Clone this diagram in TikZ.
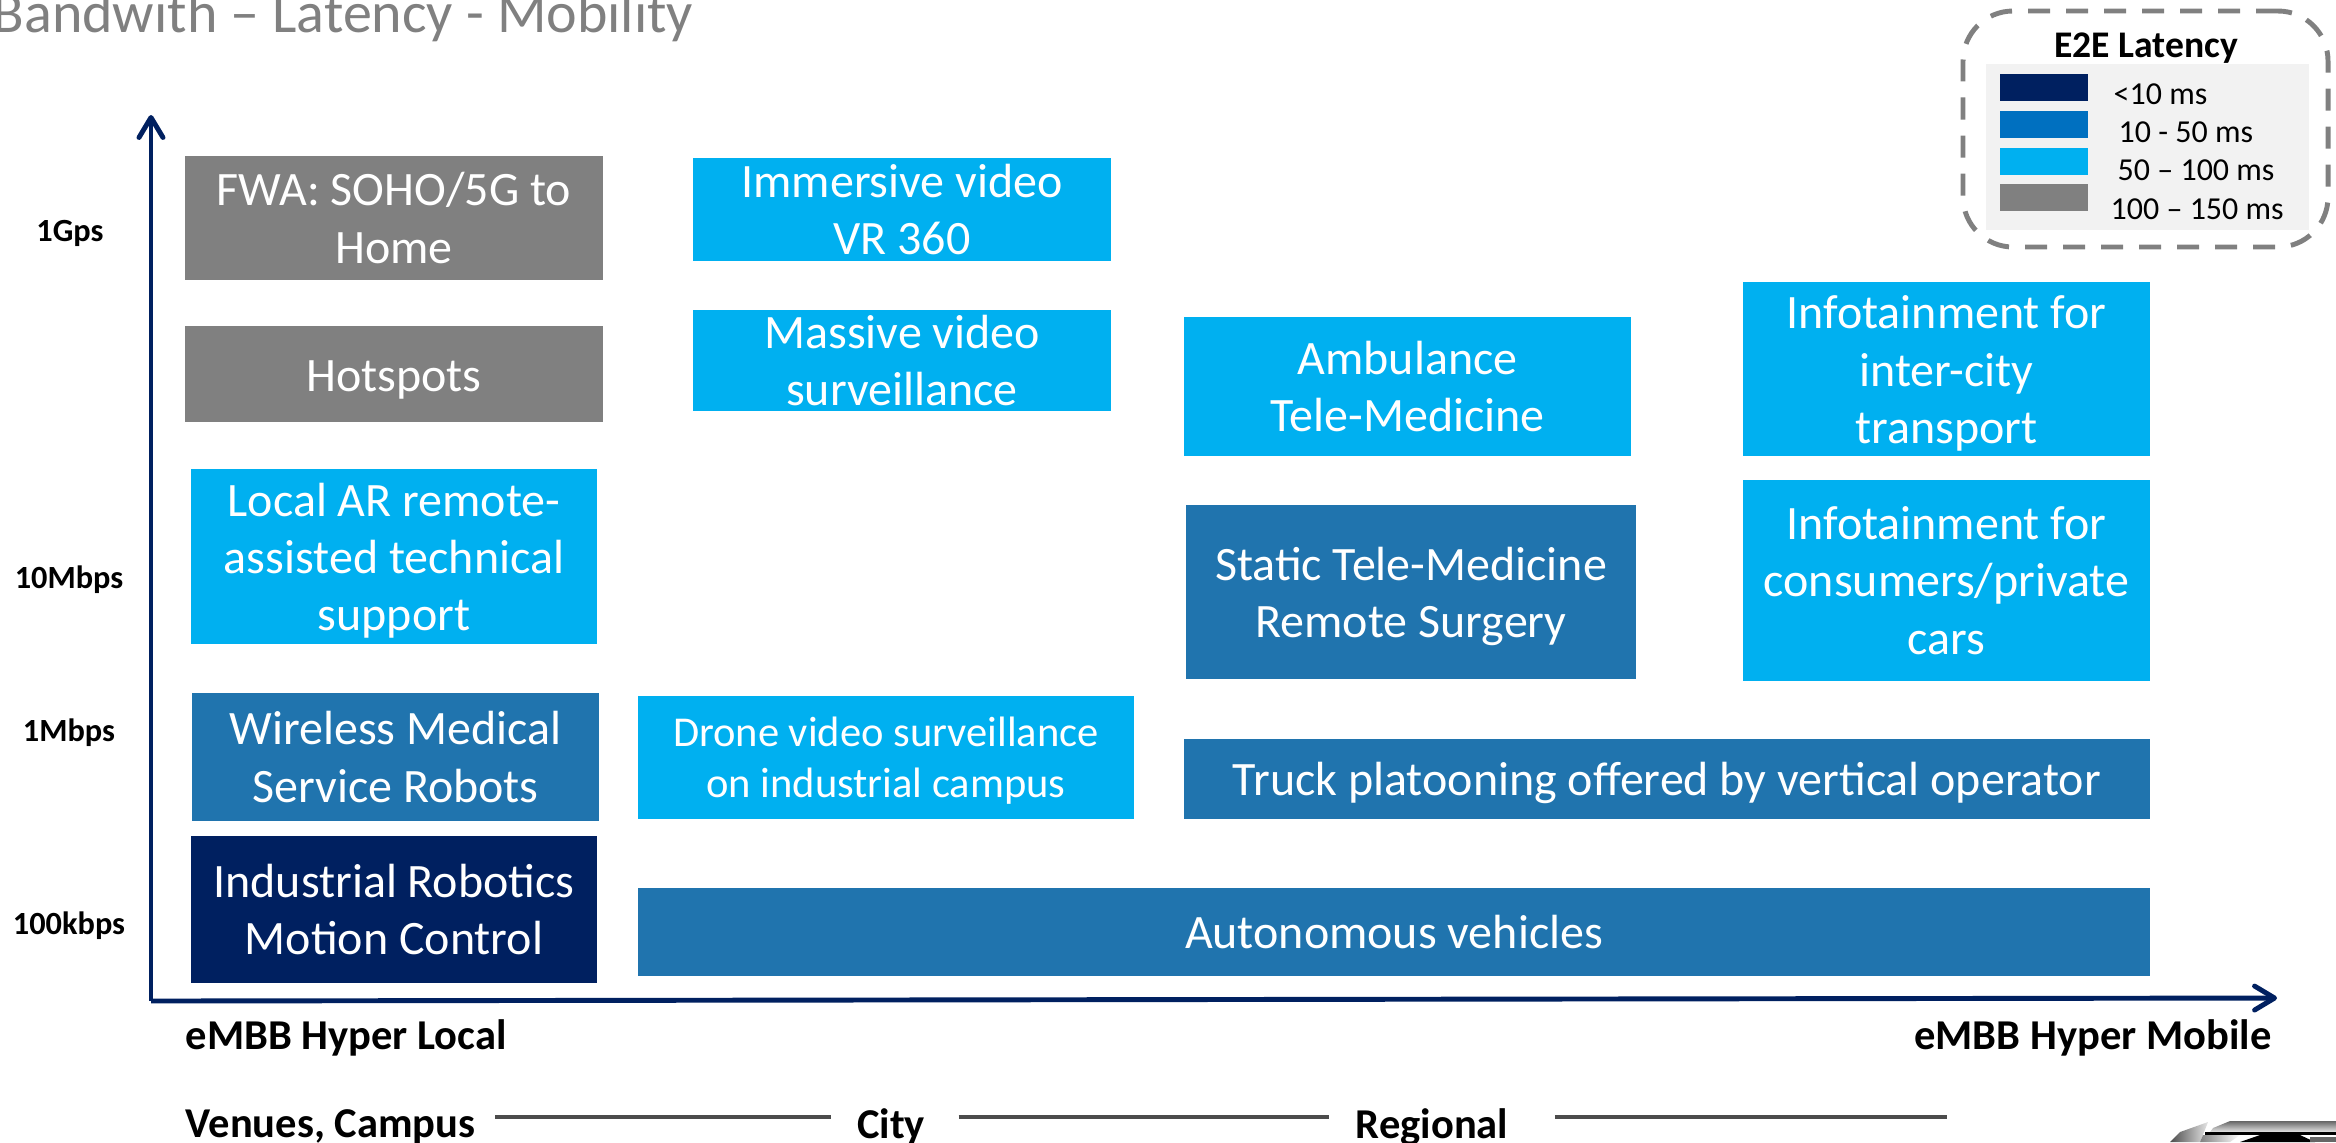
\documentclass[tikz,border=0pt]{standalone}
\usepackage{fontspec}
\setmainfont{Carlito}
\usetikzlibrary{arrows.meta}
\definecolor{darknavy}{HTML}{002060}
\definecolor{midblue}{HTML}{2074AE}
\definecolor{legendblue}{HTML}{0070C0}
\definecolor{skyblue}{HTML}{00B0F0}
\definecolor{midgrey}{HTML}{808080}
\tikzset{
	latbox/.style = {rectangle, inner sep = 0pt, text = white, align = center, font = \fontsize{13.65}{16.3}\selectfont},
	textdown/.style = {text height = #1},
	ratelabel/.style = {inner sep = 0pt, font = \fontsize{9.2}{11}\selectfont\bfseries},
	axislabel/.style = {inner sep = 0pt, font = \fontsize{12.1}{14}\selectfont\bfseries},
	legendtext/.style = {inner sep = 0pt, anchor = west, font = \fontsize{9.1}{11}\selectfont},
	swatch/.style = {rectangle, inner sep = 0pt, minimum width = 0.88cm, minimum height = 0.27cm},
	axisline/.style = {darknavy, line width = 1.4pt, -{Straight Barb[round, length = 2mm, width = 2.4mm, line width = 1.4pt]}},
	scaleline/.style = {draw = black!70, line width = 1.1pt}
}
\begin{document}
\begin{tikzpicture}[x = 1cm, y = -1cm]
	      	\useasboundingbox (0, 0) rectangle (23.36, 11.42);
	      	\clip (0, 0) rectangle (23.36, 11.42);
	      	\node[anchor = base west, inner sep = 0pt, text = midgrey, font = \fontsize{16.5}{20}\selectfont] (title) at (-0.08, 0.32) {Bandwith – Latency - Mobility};
	      	\coordinate (origin) at (1.51, 10.01);
	      	\coordinate (ytip) at (1.51, 1.15);
	      	\coordinate (xtip) at (22.77, 9.98);
	      	\draw[axisline] (origin) -- (ytip);
	      	\draw[axisline] (origin) -- (xtip);
	      	\node[latbox, fill = midgrey, minimum width = 4.18cm, minimum height = 1.24cm] (fwa) at (3.94, 2.18) {FWA: SOHO/5G to\\Home};
	      	\node[latbox, textdown = 12pt, fill = midgrey, minimum width = 4.18cm, minimum height = 0.96cm] (hotspots) at (3.94, 3.74) {Hotspots};
	      	\node[latbox, textdown = 44.5pt, fill = skyblue, minimum width = 4.06cm, minimum height = 1.75cm] (localar) at (3.94, 5.565) {Local AR remote-\\assisted technical\\support};
	      	\node[latbox, fill = midblue, minimum width = 4.07cm, minimum height = 1.28cm] (wireless) at (3.955, 7.57) {Wireless Medical\\Service Robots};
	      	\node[latbox, fill = darknavy, minimum width = 4.06cm, minimum height = 1.47cm] (industrial) at (3.94, 9.095) {Industrial Robotics\\Motion Control};
	      	\node[latbox, fill = skyblue, minimum width = 4.18cm, minimum height = 1.03cm] (immersive) at (9.02, 2.095) {Immersive video\\VR 360};
	      	\node[latbox, fill = skyblue, minimum width = 4.18cm, minimum height = 1.01cm] (massive) at (9.02, 3.605) {Massive video\\surveillance};
	      	\node[latbox, textdown = 24.8pt, fill = skyblue, minimum width = 4.96cm, minimum height = 1.23cm, font = \fontsize{12.1}{14.7}\selectfont] (drone) at (8.86, 7.575) {Drone video surveillance\\on industrial campus};
	      	\node[latbox, fill = midblue, minimum width = 15.12cm, minimum height = 0.88cm] (autonomous) at (13.94, 9.32) {Autonomous vehicles};
	      	\node[latbox, textdown = 12pt, fill = midblue, minimum width = 9.66cm, minimum height = 0.80cm] (truck) at (16.67, 7.79) {Truck platooning offered by vertical operator};
	      	\node[latbox, fill = skyblue, minimum width = 4.47cm, minimum height = 1.39cm] (ambulance) at (14.075, 3.865) {Ambulance\\Tele-Medicine};
	      	\node[latbox, textdown = 28.2pt, fill = midblue, minimum width = 4.50cm, minimum height = 1.74cm] (static) at (14.11, 5.92) {Static Tele-Medicine\\Remote Surgery};
	      	\node[latbox, textdown = 44.5pt, fill = skyblue, minimum width = 4.07cm, minimum height = 1.74cm] (intercity) at (19.465, 3.69) {Infotainment for\\inter-city\\transport};
	      	\node[latbox, fill = skyblue, minimum width = 4.07cm, minimum height = 2.01cm] (consumers) at (19.465, 5.805) {Infotainment for\\consumers/private\\cars};
	      	\node[ratelabel] (rategps) at (0.70, 2.33) {1Gps};
	      	\node[ratelabel] (ratetenm) at (0.69, 5.80) {10Mbps};
	      	\node[ratelabel] (ratem) at (0.69, 7.33) {1Mbps};
	      	\node[ratelabel] (ratek) at (0.69, 9.26) {100kbps};
	      	\node[axislabel, anchor = west] (hyperlocal) at (1.85, 10.38) {eMBB Hyper Local};
	      	\node[axislabel, anchor = east] (hypermobile) at (22.72, 10.38) {eMBB Hyper Mobile};
	      	\node[axislabel, anchor = west] (venues) at (1.85, 11.27) {Venues, Campus};
	      	\node[axislabel] (city) at (8.91, 11.27) {City};
	      	\node[axislabel] (regional) at (14.32, 11.27) {Regional};
	      	\coordinate (scaleend) at (19.47, 11.17);
	      	\draw[scaleline] ([xshift = 0.19cm, yshift = 0.10cm]venues.east) -- ([xshift = -0.25cm, yshift = 0.10cm]city.west);
	      	\draw[scaleline] ([xshift = 0.33cm, yshift = 0.10cm]city.east) -- ([xshift = -0.26cm, yshift = 0.10cm]regional.west);
	      	\draw[scaleline] ([xshift = 0.46cm, yshift = 0.10cm]regional.east) -- (scaleend);
	      	% legend
	      	\node[rectangle, draw = midgrey, line width = 1.4pt, dash pattern = on 0.22cm off 0.16cm, rounded corners = 0.5cm, minimum width = 3.65cm, minimum height = 2.36cm] (legendframe) at (21.455, 1.29) {};
	      	\node[rectangle, fill = black!5, inner sep = 0pt, minimum width = 3.23cm, minimum height = 1.66cm] (legendbg) at (21.475, 1.47) {};
	      	\node[inner sep = 0pt, font = \fontsize{10.7}{13}\selectfont\bfseries] (legendtitle) at (21.46, 0.48) {E2E Latency};
	      	\node[swatch, fill = darknavy] (swnavy) at (20.44, 0.875) {};
	      	\node[swatch, fill = legendblue] (swblue) at (20.44, 1.245) {};
	      	\node[swatch, fill = skyblue] (swsky) at (20.44, 1.615) {};
	      	\node[swatch, fill = midgrey] (swgrey) at (20.44, 1.975) {};
	      	\node[legendtext] (txtnavy) at (21.13, 0.94) {<10 ms};
	      	\node[legendtext] (txtblue) at (21.18, 1.32) {10 - 50 ms};
	      	\node[legendtext] (txtsky) at (21.17, 1.70) {50 – 100 ms};
	      	\node[legendtext] (txtgrey) at (21.10, 2.09) {100 – 150 ms};
	      	% logo corner
	      	\shade[top color = black!60, bottom color = black!10] (22.13, 11.28) -- (22.30, 11.21) -- (23.36, 11.21) -- (23.36, 11.32) -- (22.10, 11.32) -- cycle;
	      	\shade[left color = black!70, right color = black!10] (21.80, 11.32) -- (22.08, 11.22) -- (22.00, 11.42) -- (21.70, 11.42) -- cycle;
	      	\fill[black] (22.05, 11.32) rectangle (23.36, 11.35);
	      	\shade[left color = black!50, right color = white] (22.03, 11.35) -- (22.40, 11.35) -- (22.30, 11.42) -- (22.00, 11.42) -- cycle;
	      	\fill[black] (22.40, 11.42) -- (22.60, 11.35) -- (23.00, 11.35) -- (23.15, 11.42) -- cycle;
	      	\fill[black!60] (23.10, 11.37) rectangle (23.36, 11.42);
\end{tikzpicture}
\end{document}
